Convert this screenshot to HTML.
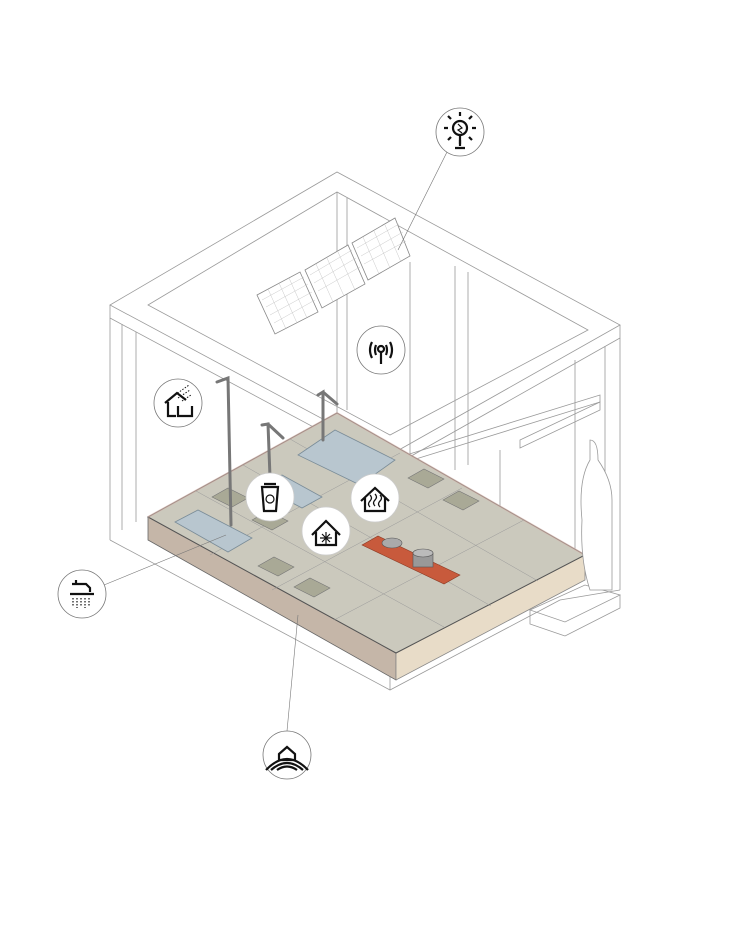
<!DOCTYPE html>
<html><head><meta charset="utf-8"><style>
html,body{margin:0;padding:0;background:#fff}
svg{display:block}
</style></head><body>
<svg width="730" height="944" viewBox="0 0 730 944" xmlns="http://www.w3.org/2000/svg" font-family="Liberation Sans, sans-serif">
<g fill="none" stroke="#9a9a9a" stroke-width="0.8">
<polygon points="337,172 110,305 390,455 620,325"/>
<polygon points="337,192 148,305 390,435 588,330"/>
<polyline points="110,305 110,318 390,468 620,338 620,325"/>
<line x1="110" y1="318" x2="110" y2="540"/>
<line x1="122" y1="324" x2="122" y2="530"/>
<line x1="136" y1="332" x2="136" y2="522"/>
<line x1="337" y1="192" x2="337" y2="415"/>
<line x1="347" y1="198" x2="347" y2="410"/>
<line x1="620" y1="338" x2="620" y2="590"/>
<line x1="605" y1="346" x2="605" y2="590"/>
<line x1="575" y1="360" x2="575" y2="560"/>
<line x1="455" y1="266" x2="455" y2="470"/>
<line x1="468" y1="272" x2="468" y2="465"/>
<line x1="390" y1="468" x2="390" y2="690"/>
<polyline points="110,540 390,690 560,600"/>
<line x1="560" y1="600" x2="620" y2="590"/>
<polygon points="530,610 585,585 620,595 565,622" />
<polyline points="530,610 530,624 565,636 620,608 620,595"/>
<polygon points="390,460 600,395 600,402 390,467"/>
<polygon points="520,440 600,402 600,410 520,448"/>
<line x1="410" y1="262" x2="410" y2="510"/>
<line x1="440" y1="480" x2="440" y2="560"/>
<line x1="500" y1="450" x2="500" y2="540"/>
</g>
<g fill="#fff" stroke="#888" stroke-width="0.8">
<polygon points="257,295 300,272 318,312 275,334"/>
<polygon points="305,270 348,245 365,284 322,308"/>
<polygon points="352,243 395,218 410,256 368,280"/>
</g>
<g stroke="#bbb" stroke-width="0.4">
<path d="M262,300 L304,277 M266,307 L308,284 M270,315 L312,292 M274,323 L315,300 M310,275 L352,250 M314,283 L356,258 M318,291 L360,267 M357,248 L399,224 M361,256 L403,232 M364,264 L406,241 M268,289 L286,329 M279,283 L297,323 M289,278 L307,318 M316,264 L333,302 M327,258 L344,296 M338,252 L355,290 M363,237 L379,274 M374,231 L390,268 M385,225 L401,262"/>
</g>
<polygon points="148,517 396,653 396,680 148,540" fill="#c5b6a8" stroke="#666" stroke-width="0.8"/>
<polygon points="396,653 585,555 585,580 396,680" fill="#e8dcc8" stroke="#888" stroke-width="0.8"/>
<polygon points="337,413 148,517 396,653 585,555" fill="#cbc9bd" stroke="#555" stroke-width="1"/>
<polyline points="148,517 337,413 585,555" fill="none" stroke="#d9b8ae" stroke-width="2" opacity="0.6"/>
<g stroke="#999" stroke-width="0.5" fill="none">
<line x1="290" y1="439" x2="538" y2="581"/><line x1="243" y1="465" x2="491" y2="606"/><line x1="196" y1="491" x2="444" y2="627"/>
<line x1="210" y1="555" x2="400" y2="453"/><line x1="272" y1="590" x2="462" y2="488"/><line x1="334" y1="620" x2="524" y2="520"/>
</g>
<g fill="#b8c6cf" stroke="#7a8c98" stroke-width="0.8">
<polygon points="175,522 198,510 252,538 228,552"/>
<polygon points="298,455 335,430 395,460 360,485"/>
<polygon points="262,487 282,475 322,497 302,508"/>
</g>
<g fill="#a9a996" stroke="#777" stroke-width="0.6">
<polygon points="212,497 228,488 248,498 232,507"/><polygon points="252,520 268,511 288,521 272,530"/>
<polygon points="258,566 274,557 294,567 278,576"/><polygon points="294,587 310,578 330,588 314,597"/>
<polygon points="408,478 424,469 444,479 428,488"/><polygon points="443,500 459,491 479,501 463,510"/>
</g>
<polygon points="362,545 378,536 460,575 444,584" fill="#c85a3c" stroke="#8a3a24" stroke-width="0.6"/>
<ellipse cx="392" cy="543" rx="10" ry="5" fill="#aaa" stroke="#555" stroke-width="0.6"/>
<rect x="413" y="553" width="20" height="14" fill="#999" stroke="#555" stroke-width="0.6"/>
<ellipse cx="423" cy="553" rx="10" ry="4" fill="#bbb" stroke="#555" stroke-width="0.6"/>
<g stroke="#777" stroke-width="3" fill="none" stroke-linecap="round">
<path d="M217,382 L228,378 L231,525"/>
<path d="M262,425 L268,424 L270,477 M268,424 L283,438"/>
<path d="M318,395 L323,392 L323,440 M323,392 L337,404"/>
</g>
<path d="M590,440 Q598,440 598,460 Q612,480 612,500 L612,590 L590,590 Q580,560 582,520 Q578,480 590,460 Z" fill="#fff" stroke="#999" stroke-width="0.8"/>
<g stroke="#777" stroke-width="0.6">
<line x1="448" y1="150" x2="398" y2="250"/>
<line x1="104" y1="585" x2="226" y2="535"/>
<line x1="287" y1="731" x2="298" y2="615"/>
</g>
<g fill="#fff" stroke="#777" stroke-width="0.8">
<circle cx="460" cy="132" r="24"/>
<circle cx="381" cy="350" r="24"/>
<circle cx="178" cy="403" r="24"/>
<circle cx="270" cy="497" r="24" stroke="#ccc"/>
<circle cx="375" cy="498" r="24" stroke="#ccc"/>
<circle cx="326" cy="531" r="24" stroke="#ccc"/>
<circle cx="82" cy="594" r="24"/>
<circle cx="287" cy="755" r="24"/>
</g>
<g fill="none" stroke="#111" stroke-width="2.2">
<circle cx="460" cy="128" r="7"/>
<path d="M460,116 L460,112 M460,144 L460,140 M448,128 L444,128 M472,128 L476,128 M451,119 L448,116 M469,119 L472,116 M451,137 L448,140 M469,137 L472,140"/>
<path d="M460,135 L460,146 M455,148 L465,148"/>
<path d="M458,124 L462,128 L458,130 L462,133" stroke-width="1.2"/>
<path d="M372,342 Q368,350 372,358 M390,342 Q394,350 390,358 M376,345 Q374,350 376,355 M386,345 Q388,350 386,355"/>
<circle cx="381" cy="349" r="3"/><path d="M381,352 L381,364"/>
<path d="M165,403 L177,393 L186,400 M168,402 L168,416 L176,416 M178,406 L178,416 L192,416 L192,406"/>
<path d="M175,395 L189,385 M178,398 L190,390 M182,401 L191,395" stroke-width="1" stroke-dasharray="1.5 1.5"/>
<path d="M262,487 L278,487 L276,511 L264,511 Z M264,484 L276,484"/>
<circle cx="270" cy="499" r="4" stroke-width="1.2"/>
<path d="M361,501 L375,488 L389,501 M365,498 L365,511 L385,511 L385,498"/>
<path d="M370,495 q3,3 0,6 q-3,3 0,6 M375,494 q3,3 0,6 q-3,3 0,6 M380,495 q3,3 0,6 q-3,3 0,6" stroke-width="1.3"/>
<path d="M312,535 L326,521 L340,535 M316,532 L316,545 L336,545 L336,532"/>
<path d="M320,538 L332,538 M326,532 L326,544 M322,534 L330,542 M330,534 L322,542" stroke-width="1.2"/>
<path d="M72,584 L86,584 L90,588 L90,592 M76,584 L76,580 M70,594 L94,594"/>
<path d="M73,598 L73,606 M77,598 L77,608 M81,598 L81,606 M85,598 L85,608 M89,598 L89,606" stroke-width="1.2" stroke-dasharray="1.5 1.5"/>
<path d="M266,770 Q287,748 308,770 M271,770 Q287,756 303,770 M277,770 Q287,763 297,770 M279,754 L287,747 L295,754 L295,760 L279,760 Z"/>
</g>
</svg>
</body></html>
